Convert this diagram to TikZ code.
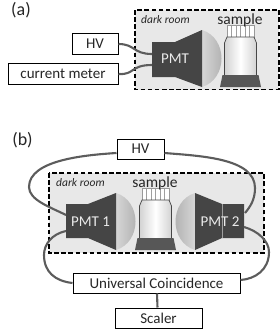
\documentclass[tikz,border=0pt]{standalone}
\usepackage{fontspec}
\setmainfont{Carlito}
\definecolor{pmtdark}{gray}{0.27}
\definecolor{wire}{gray}{0.36}
\definecolor{roomfill}{gray}{0.91}
\definecolor{winlight}{gray}{0.84}
\definecolor{windark}{gray}{0.66}
\tikzset{
  x=1pt,y=-1pt,
  roombox/.style={draw=black,fill=roomfill,line width=1.1pt,dash pattern=on 4.5pt off 2.6pt},
  labelbox/.style={draw=black,fill=white,line width=1pt,inner sep=0pt,font=\fontsize{15}{17}\selectfont,text=black!85},
  cable/.style={draw=wire,line width=2.1pt},
  pmtbody/.style={fill=pmtdark},
  pmttext/.style={text=white!92!black,font=\fontsize{15}{17}\selectfont,inner sep=0pt},
  roomtext/.style={font=\itshape\fontsize{11.5}{13}\selectfont,inner sep=0pt,text=black!85},
  sampletext/.style={font=\fontsize{15.5}{17}\selectfont,inner sep=0pt,text=black!85},
  paneltext/.style={font=\fontsize{18}{20}\selectfont,inner sep=0pt,text=black!85}
}
% Glass vial with ribbed cap and dark base; the arguments are the horizontal centre and the top of the cap
\newcommand{\vialat}[2]{%
  \begin{scope}[shift={(#1,#2)}]
    \fill[white,draw=gray!80,line width=0.5pt] (-13.5,0) rectangle (13.5,12);
    \foreach \i in {-9,-4.5,0,4.5,9}{\draw[gray!75,line width=0.6pt] (\i,0.5) -- (\i,12);}
    \shade[left color=gray!35,right color=gray!35,middle color=white,draw=gray!55!black,line width=0.7pt]
      (-13.5,12) -- (13.5,12) -- (16,18) -- (16,51) -- (-16,51) -- (-16,18) -- cycle;
    \fill[gray!68!black] (-18,50) -- (18,50) -- (20.5,62) -- (-20.5,62) -- cycle;
  \end{scope}}
\begin{document}
\begin{tikzpicture}
\useasboundingbox (0,0) rectangle (280,332);
\fill[white] (0,0) rectangle (280,332);

% Panel (a)
\node[paneltext] (pa) at (21,10) {(a)};
\draw[roombox] (135,10) rectangle (279,89.5);
\node[labelbox,minimum width=46pt,minimum height=21pt] (hva) at (95,44) {HV};
\node[labelbox,minimum width=110pt,minimum height=21pt] (meter) at (63,74) {current meter};
\node[roomtext,anchor=west] (rooma) at (141,20) {dark room};
% Photomultiplier window and body
\shade[left color=winlight,right color=windark] (202,30) .. controls (228,38) and (228,79) .. (202,87) -- cycle;
\fill[pmtbody] (152,42) -- (175,42) -- (202,30) -- (202,87) -- (175,77) -- (152,77) -- cycle;
\coordinate (pmtain) at (152,54);
\coordinate (pmtaout) at (152,65);
\node[pmttext] (pmta) at (175,59) {PMT};
\draw[cable] (hva.east) .. controls (135,44) and (133,54) .. (pmtain);
\draw[cable] (meter.east) .. controls (135,75) and (130,65) .. (pmtaout);
\vialat{240.5}{25}
\node[sampletext] (samplea) at (240,20) {sample};

% Panel (b)
\node[paneltext] (pb) at (22.5,140) {(b)};
\draw[roombox] (49,173) rectangle (264,253);
\node[roomtext,anchor=west] (roomb) at (56,183) {dark room};
\shade[left color=winlight,right color=windark] (116,193) .. controls (142,201) and (142,242) .. (116,250) -- cycle;
\fill[pmtbody] (66,204) -- (88,204) -- (116,193) -- (116,250) -- (88,238) -- (66,238) -- cycle;
\shade[left color=windark,right color=winlight] (195,193) .. controls (169,201) and (169,242) .. (195,250) -- cycle;
\fill[pmtbody] (244,204) -- (222,204) -- (195,193) -- (195,250) -- (222,238) -- (244,238) -- cycle;
\draw[gray!75,line width=0.5pt] (222,204) -- (222,238);
\node[pmttext] (pmt1) at (90.5,222) {PMT 1};
\node[pmttext] (pmt2) at (220,222) {PMT 2};
\vialat{155.5}{188}
\node[sampletext] (sampleb) at (155,183) {sample};
\node[labelbox,minimum width=47pt,minimum height=20pt] (hvb) at (140.5,149) {HV};
\node[labelbox,minimum width=167pt,minimum height=20pt] (uc) at (156.5,283) {Universal Coincidence};
\node[labelbox,minimum width=87pt,minimum height=20pt] (scaler) at (158.5,318) {Scaler};
\coordinate (p1in) at (66,215);
\coordinate (p1out) at (66,231);
\coordinate (p2in) at (245,213);
\coordinate (p2out) at (244,227);
\draw[cable] ([yshift=-4pt]hvb.west) .. controls (85,155) and (29,160) .. (29,187) .. controls (29,200) and (50,207) .. (p1in);
\draw[cable] ([yshift=-4pt]hvb.east) .. controls (200,156) and (255,158) .. (255,188) .. controls (255,200) and (250,207) .. (p2in);
\draw[cable] (p1out) .. controls (52,234) and (44,244) .. (44,255) .. controls (44,272) and (55,281) .. (uc.west);
\draw[cable] (p2out) .. controls (258,231) and (269,241) .. (269,252) .. controls (269,270) and (255,279) .. ([yshift=3pt]uc.east);
\draw[cable] ([xshift=0.5pt]uc.south) -- ([xshift=-1pt]scaler.north);
\end{tikzpicture}
\end{document}
